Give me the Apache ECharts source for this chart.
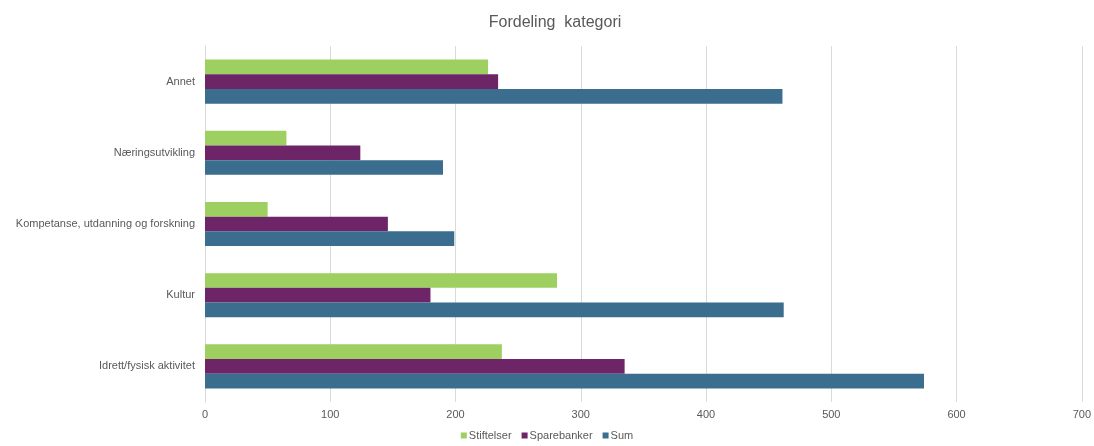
<!DOCTYPE html>
<html>
<head>
<meta charset="utf-8">
<script src="https://cdn.jsdelivr.net/npm/echarts@6/dist/echarts.min.js"></script>
<style>
  html, body { margin: 0; padding: 0; background: #fff; }
  #chart { width: 1094px; height: 446px; }
</style>
</head>
<body>
<div id="chart"></div>
<script>
// categories bottom -> top
const categories = [
  "Idrett/fysisk aktivitet",
  "Kultur",
  "Kompetanse, utdanning og forskning",
  "Næringsutvikling",
  "Annet"
];
const stiftelser = [237, 281, 50, 65, 226];
const sparebanker = [335, 180, 146, 124, 234];
const sum = [574, 462, 199, 190, 461];
const xTicks = [0, 100, 200, 300, 400, 500, 600, 700];

const chart = echarts.init(document.getElementById("chart"));
const font = "Liberation Sans";

chart.setOption({
  animation: false,
  title: {
    text: "Fordeling  kategori",
    left: 550,
    textAlign: "center",
    top: 10,
    textStyle: { fontFamily: font, fontSize: 16, fontWeight: "normal", color: "#595959" }
  },
  legend: {
    data: ["Stiftelser", "Sparebanker", "Sum"],
    bottom: 0,
    left: "center",
    itemWidth: 6,
    itemHeight: 6,
    itemGap: 10,
    icon: "rect",
    textStyle: { fontFamily: font, fontSize: 11, color: "#595959", padding: [0, 0, 0, -3] }
  },
  grid: { left: 205, right: 11, top: 46, bottom: 44 },
  xAxis: {
    type: "value",
    min: xTicks[0],
    max: xTicks[xTicks.length - 1],
    interval: 100,
    axisLine: { show: false },
    axisTick: { show: false },
    axisLabel: { fontFamily: font, fontSize: 11, color: "#595959", margin: 7 },
    splitLine: { lineStyle: { color: "#d9d9d9" } }
  },
  yAxis: {
    type: "category",
    data: categories,
    axisLine: { lineStyle: { color: "#d9d9d9" } },
    axisTick: { show: false },
    axisLabel: { fontFamily: font, fontSize: 11, color: "#595959", margin: 10 }
  },
  series: [
    { name: "Stiftelser", type: "bar", data: stiftelser, barGap: "0%", barCategoryGap: "38%", itemStyle: { color: "#9dcf61" } },
    { name: "Sparebanker", type: "bar", data: sparebanker, itemStyle: { color: "#6d2568" } },
    { name: "Sum", type: "bar", data: sum, itemStyle: { color: "#3b6d8f" } }
  ]
});
</script>
</body>
</html>
